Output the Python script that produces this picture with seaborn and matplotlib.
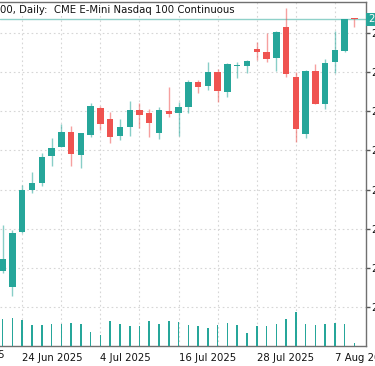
import numpy as np
import pandas as pd
import seaborn as sns
import matplotlib.pyplot as plt

sns.set_theme(style="white")
plt.rcParams["font.family"] = ["DejaVu Sans"]

# daily bars, 20 Jun 2025 .. 11 Aug 2025
dates = ["20 Jun", "23 Jun", "24 Jun", "25 Jun", "26 Jun", "27 Jun", "30 Jun",
         "1 Jul", "2 Jul", "3 Jul", "4 Jul", "7 Jul", "8 Jul", "9 Jul", "10 Jul",
         "11 Jul", "14 Jul", "15 Jul", "16 Jul", "17 Jul", "18 Jul", "21 Jul",
         "22 Jul", "23 Jul", "24 Jul", "25 Jul", "28 Jul", "29 Jul", "30 Jul",
         "31 Jul", "1 Aug", "4 Aug", "5 Aug", "6 Aug", "7 Aug", "8 Aug", "11 Aug"]
opens = [21776, 21653, 22075, 22397, 22450, 22657, 22726, 22841, 22665, 22818,
         23025, 22941, 22811, 22879, 23010, 22987, 22834, 23002, 22987, 23033,
         23224, 23194, 23301, 23148, 23351, 23347, 23477, 23454, 23408, 23646,
         23263, 22826, 23309, 23056, 23378, 23462, 23715]
highs = [22128, 22090, 22435, 22535, 22680, 22795, 22902, 22887, 22834, 23063,
         23040, 22994, 22941, 23079, 23063, 23017, 23033, 23186, 23071, 23240,
         23240, 23378, 23324, 23370, 23378, 23393, 23531, 23600, 23615, 23792,
         23301, 23316, 23362, 23401, 23615, 23707, 23715]
lows = [21761, 21584, 22067, 22374, 22427, 22581, 22726, 22581, 22565, 22803,
        22856, 22757, 22780, 22811, 22872, 22803, 22788, 22956, 22811, 22987,
        23140, 23163, 23071, 23109, 23255, 23293, 23393, 23378, 23309, 23263,
        22765, 22795, 23056, 23017, 23293, 23454, 23646]
closes = [21868, 22067, 22397, 22450, 22650, 22719, 22841, 22673, 22834, 23040,
          22902, 22803, 22879, 23010, 22971, 22910, 23010, 22979, 23033, 23224,
          23186, 23301, 23155, 23362, 23355, 23385, 23454, 23401, 23608, 23286,
          22864, 23309, 23056, 23370, 23470, 23707, 23707]
volumes = [540, 560, 520, 420, 420, 440, 440, 460, 440, 280, 220, 500, 440, 400,
           400, 500, 440, 500, 480, 420, 400, 360, 420, 460, 420, 260, 400, 400,
           440, 540, 680, 440, 420, 440, 460, 440, 60]

tick_pos = [2, 10, 18, 26, 34]
tick_labels = ["24 Jun 2025", "4 Jul 2025", "16 Jul 2025", "28 Jul 2025", "7 Aug 2025"]
early_label = "12 Jun 2025"   # label at bar -6, mostly scrolled off
price_levels = [21500, 21800, 22100, 22400, 22700, 23000, 23300, 23600]
last_price = 23707
title = "00, Daily:  CME E-Mini Nasdaq 100 Continuous"

TEAL = "#26a69a"
RED = "#ef5350"
XLIM = (-0.276, 37.18)
YLIM = (21201, 23838)

df = pd.DataFrame({"date": dates, "open": opens, "high": highs, "low": lows,
                   "close": closes, "volume": volumes})
df["idx"] = np.arange(len(df))
df["up"] = df["close"] >= df["open"]
df.loc[df.index[-1], "up"] = False  # last bar ticked down
df["color"] = np.where(df["up"], TEAL, RED)
df["body_lo"] = df[["open", "close"]].min(axis=1)
df["body_h"] = (df["close"] - df["open"]).abs().clip(lower=6)

fig = plt.figure(figsize=(3.75, 3.66), dpi=100)
ax = fig.add_axes([0, 20 / 366, 366 / 375, 344 / 366])

# volume overlay at the bottom of the price pane
ax_vol = ax.twinx()
sns.barplot(data=df, x="idx", y="volume", native_scale=True, width=0.16,
            color=TEAL, saturation=1, linewidth=0, ax=ax_vol)
ax_vol.set_ylim(0, 344 * 20)
ax_vol.axis("off")

# candles
ax.vlines(df["idx"], df["low"], df["high"], colors=df["color"], lw=1,
          alpha=0.55, zorder=2)
ax.bar(df["idx"], df["body_h"], bottom=df["body_lo"], width=0.66,
       color=df["color"], linewidth=0, zorder=3)

ax.axhline(last_price, color="#8fd1c9", lw=1, zorder=1)

ax.set_xticks(tick_pos)
ax.set_xticklabels(tick_labels, ha="left")
ax.set_xticks(np.arange(2, 37, 4), minor=True)
ax.yaxis.tick_right()
ax.set_yticks(price_levels)
ax.set_yticklabels([str(p) for p in price_levels])
ax.set_xlim(*XLIM)
ax.set_ylim(*YLIM)
ax.tick_params(axis="x", which="major", direction="out", length=3, width=1,
               color="#555555", labelsize=7.3, labelcolor="#111111", pad=2)
ax.tick_params(axis="x", which="minor", length=0)
ax.tick_params(axis="y", direction="out", length=3, width=1, color="#555555",
               labelsize=7.3, labelcolor="#111111", pad=1)
ax.grid(axis="both", which="both", color="#d6d6d6", linestyle=(0, (1.5, 2.5)), lw=0.8)
ax.set_axisbelow(True)

ax.text(-6, -0.011, early_label, transform=ax.get_xaxis_transform(),
        ha="left", va="top", fontsize=7.3, color="#111111", clip_on=False)

ax.spines["left"].set_visible(False)
for side in ["right", "top", "bottom"]:
    ax.spines[side].set_color("#707070")
    ax.spines[side].set_linewidth(1)

ax.text(368 / 366, (last_price - YLIM[0]) / (YLIM[1] - YLIM[0]), str(last_price),
        transform=ax.transAxes, ha="left", va="center", fontsize=7.3,
        color="white", bbox=dict(boxstyle="square,pad=0.15", fc=TEAL, ec="none"),
        clip_on=False)

fig.text(0, 1 - 10 / 366, title, ha="left", va="center", fontsize=7.3,
         color="#111111", bbox=dict(boxstyle="square,pad=0.1", fc="white", ec="none"))

fig.savefig("out.png", dpi=100)
